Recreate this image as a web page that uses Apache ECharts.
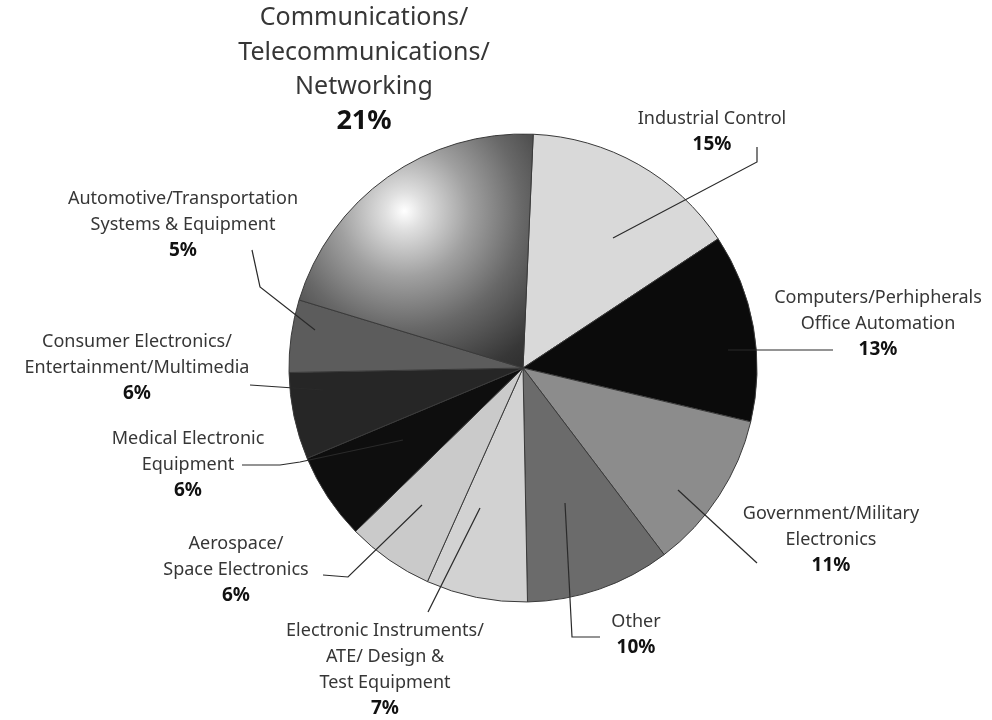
<!DOCTYPE html>
<html>
<head>
<meta charset="utf-8">
<script src="https://cdn.jsdelivr.net/npm/echarts@6/dist/echarts.min.js"></script>
<style>
  html, body { margin: 0; padding: 0; background: #ffffff; }
  #chart { width: 992px; height: 720px; }
</style>
</head>
<body>
<div id="chart"></div>
<script>
// ---- data ----
var categories = [
  'Industrial Control',
  'Computers/Perhipherals\nOffice Automation',
  'Government/Military\nElectronics',
  'Other',
  'Electronic Instruments/\nATE/ Design &\nTest Equipment',
  'Aerospace/\nSpace Electronics',
  'Medical Electronic\nEquipment',
  'Consumer Electronics/\nEntertainment/Multimedia',
  'Automotive/Transportation\nSystems & Equipment',
  'Communications/\nTelecommunications/\nNetworking'
];
var shares = [15, 13, 11, 10, 7, 6, 6, 6, 5, 21];

// ---- styles (not data) ----
var sliceColors = [
  '#d9d9d9', '#0b0b0b', '#8c8c8c', '#6b6b6b', '#d2d2d2',
  '#cacaca', '#0e0e0e', '#262626', '#5c5c5c', null
];
var labelAnchors = [
  [712, 132], [878, 324], [831, 540], [636, 635], [385, 670],
  [236, 570], [188, 465], [137, 368], [183, 225], [364, 70]
];
var leaderLines = [
  [[613, 238], [757, 162], [757, 147]],
  [[728, 350], [833, 350]],
  [[678, 490], [757, 563]],
  [[565, 503], [572, 637], [600, 637]],
  [[480, 508], [428, 612]],
  [[422, 505], [348, 577], [323, 575]],
  [[403, 440], [300, 462], [280, 465], [242, 465]],
  [[323, 390], [250, 385]],
  [[315, 330], [260, 287], [252, 250]],
  null
];

var commGradient = {
  type: 'radial', x: 0.45, y: 0.33, r: 1.0,
  colorStops: [
    { offset: 0, color: '#ffffff' },
    { offset: 0.08, color: '#e0e0e0' },
    { offset: 0.28, color: '#a0a0a0' },
    { offset: 0.5, color: '#686868' },
    { offset: 0.75, color: '#373737' },
    { offset: 1, color: '#1f1f1f' }
  ]
};

function richText(name, value, big) {
  var parts = name.split('\n').map(function (l) { return '{' + (big ? 'nb' : 'n') + '|' + l + '}'; });
  parts.push('{' + (big ? 'pb' : 'p') + '|' + value + '%}');
  return parts.join('\n');
}

var sliceData = categories.map(function (c, i) {
  return { name: c, value: shares[i], itemStyle: { color: sliceColors[i] || commGradient } };
});
var labelData = categories.map(function (c, i) {
  return { name: c, value: shares[i], labelLine: { show: leaderLines[i] !== null } };
});

var fontFam = '"Noto Sans", Lato, sans-serif';
var pieCenter = [523, 368];
var pieRadius = [0, 234];

var chart = echarts.init(document.getElementById('chart'), null, { renderer: 'canvas' });
chart.setOption({
  backgroundColor: '#ffffff',
  animation: false,
  series: [{
    type: 'pie',
    z: 2,
    center: pieCenter,
    radius: pieRadius,
    startAngle: 87.5,
    clockwise: true,
    silent: true,
    itemStyle: { borderColor: '#3a3a3a', borderWidth: 1 },
    label: { show: false },
    labelLine: { show: false },
    data: sliceData
  }, {
    type: 'pie',
    z: 5,
    center: pieCenter,
    radius: pieRadius,
    startAngle: 87.5,
    clockwise: true,
    avoidLabelOverlap: false,
    silent: true,
    itemStyle: { color: 'rgba(0,0,0,0)', borderWidth: 0 },
    label: {
      show: true,
      position: 'outside',
      align: 'center',
      formatter: function (p) { return richText(p.name, p.value, p.dataIndex === 9); },
      rich: {
        n: { fontFamily: fontFam, fontSize: 18, color: '#363636', lineHeight: 26, align: 'center' },
        p: { fontFamily: fontFam, fontSize: 19, fontWeight: 'bold', color: '#111', lineHeight: 26, align: 'center' },
        nb: { fontFamily: fontFam, fontSize: 25, color: '#363636', lineHeight: 34.5, align: 'center' },
        pb: { fontFamily: fontFam, fontSize: 27, fontWeight: 'bold', color: '#111', lineHeight: 34.5, align: 'center' }
      }
    },
    labelLine: { show: true, showAbove: true, lineStyle: { color: '#2a2a2a', width: 1.2 } },
    labelLayout: function (params) {
      var i = params.dataIndex;
      var out = {
        x: labelAnchors[i][0],
        y: labelAnchors[i][1],
        align: 'center',
        verticalAlign: 'middle'
      };
      if (leaderLines[i]) out.labelLinePoints = leaderLines[i];
      return out;
    },
    data: labelData
  }]
});
</script>
</body>
</html>
